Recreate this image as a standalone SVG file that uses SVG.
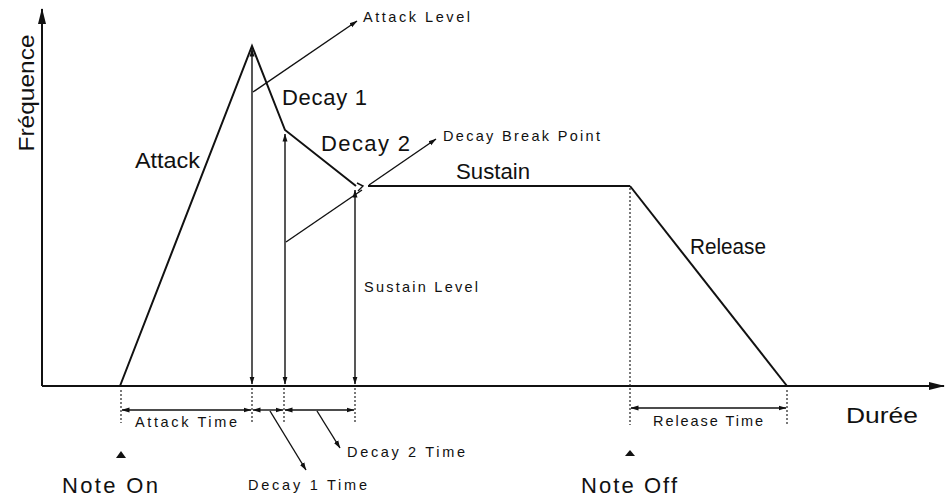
<svg xmlns="http://www.w3.org/2000/svg" width="949" height="498" viewBox="0 0 949 498">
<style>
.ln{fill:none;stroke:#111;stroke-width:2}
.thin{fill:none;stroke:#111;stroke-width:1.4}
.dot{fill:none;stroke:#222;stroke-width:1.2;stroke-dasharray:2 2}
.big{font-family:"Liberation Sans",Arial,sans-serif;font-size:22px;fill:#111}
.sm{font-family:"Liberation Sans",Arial,sans-serif;font-size:14.5px;fill:#111}
</style>
<defs>
<marker id="ahs" markerWidth="8" markerHeight="6" refX="7.5" refY="3" orient="auto-start-reverse" markerUnits="userSpaceOnUse">
<path d="M0,0.5 L8,3 L0,5.5 Z" fill="#111"/>
</marker>
<marker id="axh" markerWidth="16" markerHeight="10" refX="15" refY="5" orient="auto" markerUnits="userSpaceOnUse">
<path d="M0,1 L16,5 L0,9 Z" fill="#111"/>
</marker>
</defs>

<g id="axes">
<line class="ln" x1="42" y1="386" x2="42" y2="9" marker-end="url(#axh)"/>
<line class="ln" x1="42" y1="386" x2="944" y2="386" marker-end="url(#axh)"/>
<text class="big" transform="translate(34,93) rotate(-90)" text-anchor="middle" font-size="25" textLength="117" lengthAdjust="spacingAndGlyphs">Fréquence</text>
<text class="big" x="846" y="423" font-size="23" textLength="72" lengthAdjust="spacingAndGlyphs">Durée</text>
</g>

<g id="envelope">
<polyline class="ln" points="120,386 252,46 285,130 356,186"/>
<line class="ln" x1="368" y1="186" x2="630" y2="186"/>
<line class="ln" x1="630" y1="186" x2="787" y2="386"/>
<path class="thin" d="M357,183 L363,186 L358,191"/>
</g>

<g id="labels">
<text class="big" x="135" y="168" textLength="65" lengthAdjust="spacingAndGlyphs">Attack</text>
<text class="big" x="282" y="105" textLength="85" lengthAdjust="spacing">Decay 1</text>
<text class="big" x="321" y="151" textLength="89" lengthAdjust="spacing">Decay 2</text>
<text class="big" x="456" y="179" textLength="74" lengthAdjust="spacingAndGlyphs">Sustain</text>
<text class="big" x="690" y="254" textLength="76" lengthAdjust="spacingAndGlyphs">Release</text>
<text class="sm" x="363" y="22" textLength="107" lengthAdjust="spacing">Attack Level</text>
<text class="sm" x="443" y="141" textLength="157" lengthAdjust="spacing">Decay Break Point</text>
<text class="sm" x="364" y="292" textLength="114" lengthAdjust="spacing">Sustain Level</text>
</g>

<g id="connectors">
<line class="thin" x1="252" y1="384" x2="252" y2="49" marker-start="url(#ahs)" marker-end="url(#ahs)"/>
<line class="thin" x1="285" y1="384" x2="285" y2="134" marker-start="url(#ahs)" marker-end="url(#ahs)"/>
<line class="thin" x1="355" y1="384" x2="355" y2="190" marker-start="url(#ahs)" marker-end="url(#ahs)"/>
<line class="thin" x1="253" y1="92" x2="357" y2="21" marker-end="url(#ahs)"/>
<line class="thin" x1="286" y1="242" x2="362" y2="190"/>
<line class="thin" x1="369" y1="185" x2="436" y2="139" marker-end="url(#ahs)"/>
</g>

<g id="timing">
<line class="dot" x1="121" y1="390" x2="121" y2="423"/>
<line class="dot" x1="252" y1="388" x2="252" y2="423"/>
<line class="dot" x1="284" y1="388" x2="284" y2="423"/>
<line class="dot" x1="355" y1="388" x2="355" y2="423"/>
<line class="dot" x1="630" y1="188" x2="630" y2="425"/>
<line class="dot" x1="787" y1="390" x2="787" y2="425"/>
<line class="thin" x1="122" y1="410" x2="251" y2="410" marker-start="url(#ahs)" marker-end="url(#ahs)"/>
<line class="thin" x1="253" y1="410" x2="283" y2="410" marker-start="url(#ahs)" marker-end="url(#ahs)"/>
<line class="thin" x1="285" y1="410" x2="354" y2="410" marker-start="url(#ahs)" marker-end="url(#ahs)"/>
<line class="thin" x1="631" y1="408" x2="786" y2="408" marker-start="url(#ahs)" marker-end="url(#ahs)"/>
<line class="thin" x1="270" y1="411" x2="306" y2="470" marker-end="url(#ahs)"/>
<line class="thin" x1="317" y1="411" x2="340" y2="448" marker-end="url(#ahs)"/>
<text class="sm" x="135" y="427" textLength="102" lengthAdjust="spacing">Attack Time</text>
<text class="sm" x="347" y="457" textLength="118" lengthAdjust="spacing">Decay 2 Time</text>
<text class="sm" x="248" y="490" textLength="119" lengthAdjust="spacing">Decay 1 Time</text>
<text class="sm" x="653" y="426" textLength="110" lengthAdjust="spacing">Release Time</text>
</g>

<g id="note-on">
<path d="M116,458 L121,451 L126,458 Z" fill="#111"/>
<text class="big" x="62" y="493" textLength="96" lengthAdjust="spacing">Note On</text>
</g>
<g id="note-off">
<path d="M625,456 L630,450 L635,456 Z" fill="#111"/>
<text class="big" x="581" y="493" textLength="96" lengthAdjust="spacing">Note Off</text>
</g>
</svg>
